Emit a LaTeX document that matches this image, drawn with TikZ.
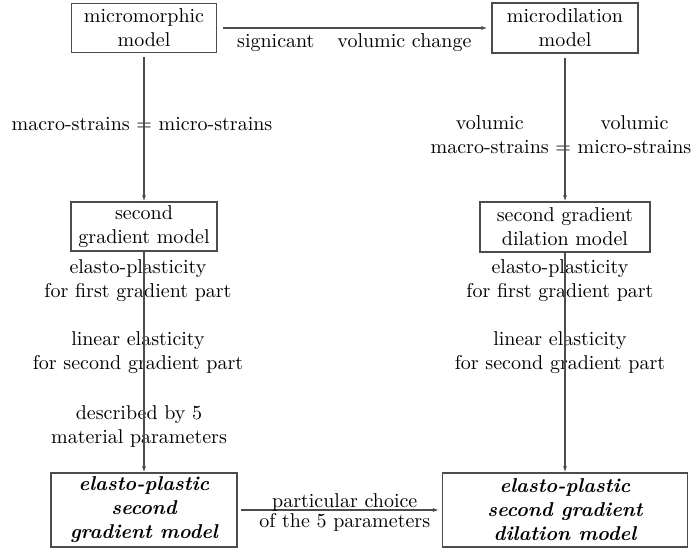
\documentclass[tikz,border=0pt]{standalone}
\usetikzlibrary{arrows.meta}
\begin{document}
\begin{tikzpicture}[x=0.5pt,y=-0.5pt]

      % Styles for the model boxes, the arrows and the side notes
      \tikzstyle{model}=[draw=black!70, line width=0.6pt, align=center, inner sep=0pt]
      \tikzstyle{final}=[model, font=\bfseries\itshape]
      \tikzstyle{link}=[draw=black!70, line width=0.6pt, -{Latex[length=3pt,width=2pt]}]
      \tikzstyle{note}=[align=center, inner sep=0pt]

      % Define positions
      \def\colL{144}    % x of the left column
      \def\colR{565}    % x of the right column

      \useasboundingbox (0,0) rectangle (691,550);

      % Model boxes
      \node[model, minimum width=72.5pt, minimum height=24.5pt] (micromorph) at (\colL,28) {micromorphic\\model};
      \node[model, minimum width=73pt, minimum height=25pt] (microdil) at (\colR,28) {microdilation\\model};
      \node[model, minimum width=73pt, minimum height=24.5pt] (secgrad) at (\colL,226.5) {second\\gradient model};
      \node[model, minimum width=85pt, minimum height=25pt] (secgraddil) at (\colR,227) {second gradient\\dilation model};
      \node[final, minimum width=93pt, minimum height=37pt] (epsecgrad) at (\colL,510) {elasto-plastic\\second\\gradient model};
      \node[final, minimum width=122.5pt, minimum height=37pt] (epsecgraddil) at (\colR,510) {elasto-plastic\\second gradient\\dilation model};

      % Side notes
      \node[note, anchor=base] (equal) at (142,131) {macro-strains $=$ micro-strains};
      \node[note] (volequal) at (561,137) {\begin{tabular}{@{}c@{\ }c@{\ }c@{}}volumic & & volumic\\macro-strains & $=$ & micro-strains\end{tabular}};
      \node[note] (plastL) at (138,281) {elasto-plasticity\\for first gradient part};
      \node[note] (elastL) at (138,353) {linear elasticity\\for second gradient part};
      \node[note] (paramsL) at (139,427) {described by 5\\material parameters};
      \node[note] (plastR) at (560,281) {elasto-plasticity\\for first gradient part};
      \node[note] (elastR) at (560,353) {linear elasticity\\for second gradient part};

      % Horizontal arrows
      \draw[link, shorten <=3pt, shorten >=2pt] (micromorph) -- (microdil)
            node[midway, anchor=base, yshift=-10pt] (change) {signicant\hspace{11.5pt}volumic change};
      \draw[link, shorten <=1.5pt, shorten >=1.5pt] (epsecgrad) -- (epsecgraddil)
            node[midway, anchor=base, xshift=2.5pt, yshift=1pt] (choice) {particular choice}
            node[midway, anchor=base, xshift=2.5pt, yshift=-9pt] (params) {of the 5 parameters};

      % Vertical arrows
      \draw[link, shorten <=2pt] (micromorph) -- (secgrad);
      \draw[link] (secgrad) -- (epsecgrad);
      \draw[link, shorten <=2pt] (microdil) -- (secgraddil);
      \draw[link] (secgraddil) -- (epsecgraddil);

\end{tikzpicture}
\end{document}
